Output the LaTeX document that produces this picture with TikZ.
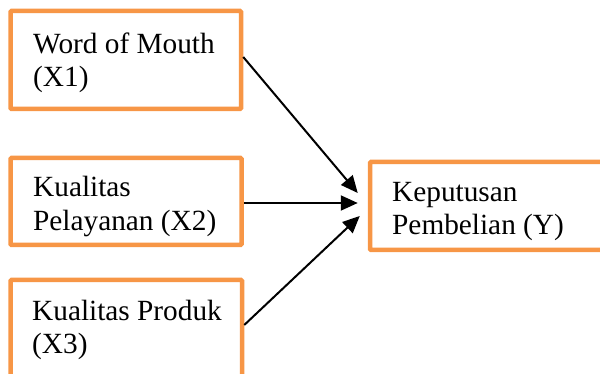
\documentclass[tikz,border=0pt]{standalone}
\usepackage{fontspec}
\setmainfont{Liberation Serif}
\usetikzlibrary{arrows.meta}
\definecolor{boxorange}{HTML}{F79646}
\begin{document}
\begin{tikzpicture}[x=1pt,y=-1pt,
  box/.style={draw=boxorange, line width=4.5pt, fill=white, rounded corners=1pt, inner sep=0pt},
  txt/.style={font=\fontsize{29.3}{33.5}\selectfont, align=left, inner sep=0pt, anchor=base west},
  arr/.style={line width=2pt, -{Triangle[length=17pt,width=15pt]}}]
\useasboundingbox (0,0) rectangle (600,374);
\node[box, minimum width=230.5pt, minimum height=98pt] (x1) at (125.75,60) {};
\node[txt] (t1) at (33,87) {Word of Mouth\\(X1)};
\node[box, minimum width=231pt, minimum height=87pt] (x2) at (126,201.5) {};
\node[txt] (t2) at (33,230.5) {Kualitas\\Pelayanan (X2)};
\node[box, minimum width=231.5pt, minimum height=100pt] (x3) at (126.25,330) {};
\node[txt] (t3) at (32,353.5) {Kualitas Produk\\(X3)};
\node[box, minimum width=236pt, minimum height=88pt] (y) at (488,206) {};
\node[txt] (ty) at (392,235) {Keputusan\\Pembelian (Y)};
\draw[arr] ([yshift=3pt]x1.east) -- ([xshift=-10pt,yshift=13pt]y.west);
\draw[arr] ([yshift=-1.5pt]x2.east) -- ([xshift=-10pt,yshift=3pt]y.west);
\draw[arr] ([yshift=5pt]x3.east) -- ([xshift=-8pt,yshift=-10pt]y.west);
\end{tikzpicture}
\end{document}
